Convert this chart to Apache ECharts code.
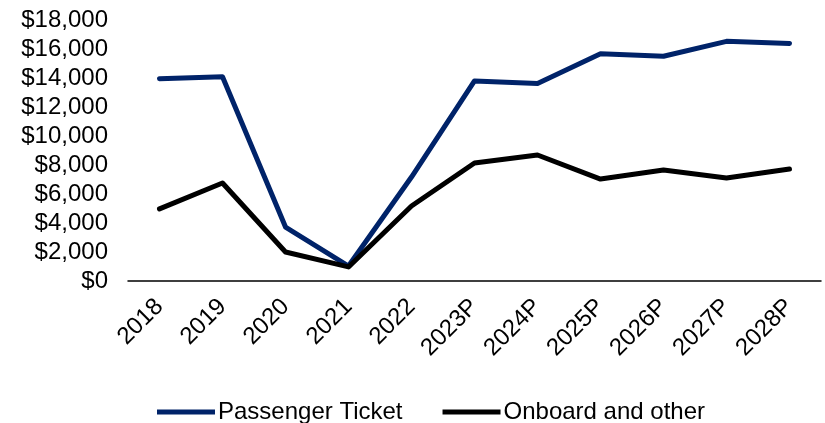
<!DOCTYPE html>
<html>
<head>
<meta charset="utf-8">
<script src="https://cdn.jsdelivr.net/npm/echarts@6/dist/echarts.min.js"></script>
<style>
  html, body { margin: 0; padding: 0; background: #fff; }
  #chart { width: 825px; height: 423px; }
</style>
</head>
<body>
<div id="chart"></div>
<script>
// values in $
const years = ['2018', '2019', '2020', '2021', '2022', '2023P', '2024P', '2025P', '2026P', '2027P', '2028P'];
const passengerTicket = [13950, 14080, 3720, 1030, 7170, 13800, 13620, 15680, 15500, 16530, 16380];
const onboardOther = [4970, 6760, 2000, 970, 5170, 8140, 8690, 7030, 7660, 7100, 7720];

const FONT = '"Liberation Sans", Arial, sans-serif';

let chart = echarts.init(document.getElementById('chart'));

chart.setOption({
    animation: false,
    textStyle: { fontFamily: FONT },
    grid: { left: 128, right: 4, top: 20, bottom: 142, containLabel: false },
    legend: {
        top: 395,
        left: 152,
        itemWidth: 58,
        itemHeight: 5,
        itemGap: 40,
        icon: 'rect',
        textStyle: { fontFamily: FONT, fontSize: 24, color: '#000', padding: [0, 0, 0, -2] },
        data: ['Passenger Ticket', 'Onboard and other']
    },
    xAxis: {
        type: 'category',
        data: years,
        boundaryGap: true,
        axisLine: { lineStyle: { color: '#000', width: 1.5 } },
        axisTick: { show: false },
        axisLabel: {
            rotate: 45,
            margin: 22,
            fontFamily: FONT,
            fontSize: 24,
            color: '#000'
        }
    },
    yAxis: {
        type: 'value',
        min: 0,
        max: 18000,
        interval: 2000,
        splitLine: { show: false },
        axisLine: { show: false },
        axisTick: { show: false },
        axisLabel: {
            margin: 20,
            fontFamily: FONT,
            fontSize: 24,
            color: '#000',
            formatter: v => '$' + v.toLocaleString('en-US')
        }
    },
    series: [
        {
            name: 'Passenger Ticket',
            type: 'line',
            data: passengerTicket,
            showSymbol: false,
            symbol: 'none',
            lineStyle: { color: '#002369', width: 5, cap: 'round', join: 'round' },
            itemStyle: { color: '#002369' }
        },
        {
            name: 'Onboard and other',
            type: 'line',
            data: onboardOther,
            showSymbol: false,
            symbol: 'none',
            lineStyle: { color: '#000', width: 5, cap: 'round', join: 'round' },
            itemStyle: { color: '#000' }
        }
    ]
});
</script>
</body>
</html>
